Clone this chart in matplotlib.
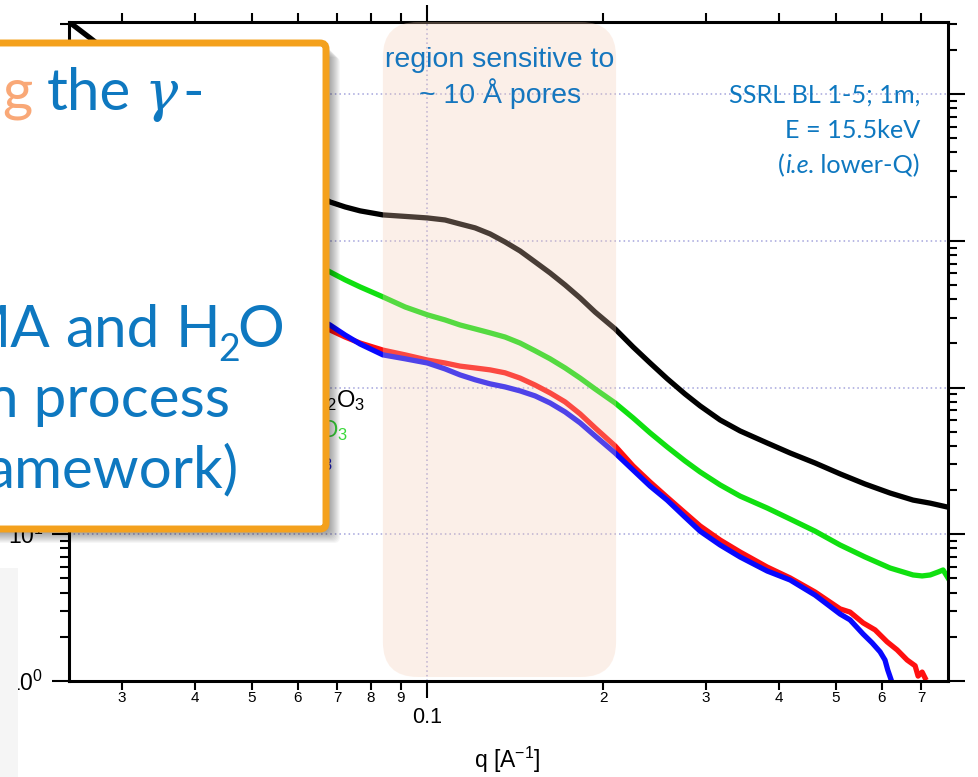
import numpy as np
import matplotlib
matplotlib.use("Agg")
import matplotlib.pyplot as plt
from matplotlib.patches import FancyBboxPatch, Rectangle
from matplotlib.transforms import IdentityTransform
from matplotlib.ticker import FixedLocator, FixedFormatter, LogLocator, NullFormatter

plt.rcParams['font.family'] = ['Liberation Sans', 'DejaVu Sans']
plt.rcParams['mathtext.fontset'] = 'custom'
plt.rcParams['mathtext.rm'] = 'Liberation Sans'
plt.rcParams['mathtext.it'] = 'Liberation Sans:italic'
plt.rcParams['mathtext.default'] = 'regular'

# scattering curves, q in 1/A
q_black = [0.0240, 0.02644, 0.0335, 0.0408, 0.0497, 0.0605, 0.0681, 0.0723, 0.0767, 0.0839,
           0.0916, 0.1000, 0.1072, 0.1137, 0.1207, 0.1280, 0.1358, 0.1441, 0.1529, 0.1622,
           0.1721, 0.1826, 0.1937, 0.2096, 0.2250, 0.2406, 0.2573, 0.2761, 0.2930, 0.3171,
           0.3431, 0.3817, 0.4179, 0.4611, 0.5089, 0.5616, 0.6197, 0.6786, 0.7258, 0.7787]
I_black = [32400, 24150, 11560, 6166, 3673, 2404, 1841, 1702, 1600, 1502,
           1467, 1432, 1387, 1303, 1225, 1115, 982, 853, 718, 604,
           500, 408, 327, 251, 189, 147, 115, 90.4, 75.0, 60.1,
           50.6, 41.9, 35.8, 30.6, 25.8, 22.0, 19.1, 17.1, 16.3, 15.3]

q_green = [0.0243, 0.0335, 0.0497, 0.0605, 0.0681, 0.0723, 0.0767, 0.0839, 0.0916, 0.1000,
           0.1072, 0.1137, 0.1207, 0.1280, 0.1358, 0.1441, 0.1529, 0.1622, 0.1721, 0.1826,
           0.1937, 0.2096, 0.2250, 0.2406, 0.2573, 0.2761, 0.2930, 0.3171, 0.3431, 0.3817,
           0.4179, 0.4611, 0.5089, 0.5616, 0.6197, 0.6786, 0.7032, 0.7258, 0.7488, 0.7638,
           0.7787]
I_green = [6670, 3043, 1283, 776, 614, 542, 485, 415, 354, 313,
           289, 267, 251, 236, 221, 201, 178, 157, 136, 116,
           97.8, 78.5, 62.1, 49.1, 39.4, 31.6, 26.6, 21.7, 18.2, 15.1,
           12.7, 10.5, 8.45, 7.00, 5.89, 5.28, 5.20, 5.28, 5.53, 5.71,
           5.04]

q_red = [0.0243, 0.0335, 0.0497, 0.0605, 0.0681, 0.0723, 0.0767, 0.0839, 0.0916, 0.1000,
         0.1072, 0.1137, 0.1207, 0.1280, 0.1358, 0.1441, 0.1529, 0.1622, 0.1721, 0.1826,
         0.1937, 0.2096, 0.2250, 0.2406, 0.2573, 0.2761, 0.2930, 0.3171, 0.3431, 0.3817,
         0.4179, 0.4611, 0.5089, 0.5292, 0.5572, 0.5841, 0.6124, 0.6371, 0.6628, 0.6840,
         0.6921, 0.7032, 0.7113]
I_red = [1901, 1015, 463, 327, 247, 221, 201, 180, 167, 154,
         147, 140, 136, 132, 126, 116, 104, 91.9, 79.8, 66.1,
         53.1, 40.0, 29.2, 22.7, 17.9, 14.0, 11.4, 9.14, 7.57, 5.98,
         5.04, 4.04, 3.10, 2.95, 2.49, 2.23, 1.85, 1.63, 1.39, 1.27,
         1.08, 1.15, 1.05]

q_blue = [0.0243, 0.0335, 0.0497, 0.0605, 0.0681, 0.0723, 0.0767, 0.0839, 0.0916, 0.1000,
          0.1072, 0.1137, 0.1207, 0.1280, 0.1358, 0.1441, 0.1529, 0.1622, 0.1721, 0.1826,
          0.1937, 0.2096, 0.2250, 0.2406, 0.2573, 0.2761, 0.2930, 0.3171, 0.3431, 0.3817,
          0.4179, 0.4611, 0.5089, 0.5292, 0.5572, 0.5773, 0.5958, 0.6074, 0.6140, 0.6222]
I_blue = [2000, 1050, 480, 340, 267, 228, 198, 167, 157, 147,
          134, 122, 113, 106, 101, 94.9, 87.7, 78.5, 68.2, 57.4,
          46.8, 35.8, 27.4, 21.3, 17.1, 13.1, 10.5, 8.45, 7.00, 5.62,
          4.88, 3.85, 2.86, 2.61, 2.09, 1.82, 1.58, 1.39, 1.19, 1.02]

x_major = [0.1]
x_major_labels = ['0.1']
x_minor = [0.03, 0.04, 0.05, 0.06, 0.07, 0.08, 0.09, 0.2, 0.3, 0.4, 0.5, 0.6, 0.7]
x_minor_labels = ['3', '4', '5', '6', '7', '8', '9', '2', '3', '4', '5', '6', '7']

region_q = [0.0839, 0.2104]   # pore-sensitive q band

W, H = 979, 777
fig = plt.figure(figsize=(W / 100, H / 100), dpi=100)
ax = fig.add_axes([69 / W, 1 - 681 / H, (948 - 69) / W, (681 - 22) / H])
ax.set_xscale('log')
ax.set_yscale('log')
ax.set_xlim(0.02434, 0.7787)
ax.set_ylim(1, 31000)

ax.plot(q_black, I_black, color='black', lw=3.8, zorder=2)
ax.plot(q_green, I_green, color='#10e010', lw=3.8, zorder=2)
ax.plot(q_red, I_red, color='#ff1010', lw=3.8, zorder=2)
ax.plot(q_blue, I_blue, color='#0808ff', lw=3.8, zorder=2)

ax.xaxis.set_major_locator(FixedLocator(x_major))
ax.xaxis.set_major_formatter(FixedFormatter(x_major_labels))
ax.xaxis.set_minor_locator(FixedLocator(x_minor))
ax.xaxis.set_minor_formatter(FixedFormatter(x_minor_labels))
ax.yaxis.set_major_locator(LogLocator(base=10, numticks=10))
ax.yaxis.set_minor_locator(LogLocator(base=10, subs=np.arange(2, 10), numticks=20))
ax.yaxis.set_minor_formatter(NullFormatter())

ax.tick_params(which='both', direction='out', top=True, right=True, width=1.5, color='black')
ax.tick_params(which='major', length=12.5)
ax.tick_params(which='minor', length=6.5)
ax.tick_params(axis='x', which='minor', labelsize=11, pad=1)
ax.tick_params(axis='x', which='major', labelsize=15.5, pad=6)
ax.tick_params(axis='y', which='major', labelsize=16.5, pad=6)
for s in ax.spines.values():
    s.set_linewidth(2.2)
ax.grid(which='major', ls=(0, (1, 2)), color='#a4a4dc', lw=1.1)
ax.grid(which='minor', visible=False)

# shaded q band with rounded corners (pixel units)
x0 = ax.transData.transform((region_q[0], 1))[0]
x1 = ax.transData.transform((region_q[1], 1))[0]
yb = H - 677
yt = H - 22
band = FancyBboxPatch((x0, yb), x1 - x0, yt - yb, boxstyle='round,pad=0,rounding_size=35',
                      transform=IdentityTransform(), fc='#F5CDB5', ec='none', alpha=0.3, zorder=3)
ax.add_patch(band)

blue = '#0E78C0'
px = IdentityTransform()
r = fig.canvas.get_renderer()

fig.text(500, H - 67, 'region sensitive to', ha='center', va='baseline', fontsize=20.5,
         color='#1576BE', transform=px, zorder=4)
fig.text(500, H - 103, '~ 10 Å pores', ha='center', va='baseline', fontsize=20.5,
         color='#1576BE', transform=px, zorder=4)

sfs = 18.2
fig.text(920, H - 103, 'SSRL BL 1-5; 1m,', ha='right', va='baseline', fontsize=sfs,
         family='Lato', color=blue, transform=px)
fig.text(920, H - 138, 'E = 15.5keV', ha='right', va='baseline', fontsize=sfs,
         family='Lato', color=blue, transform=px)
# third line built from pieces so "i.e" can be italic
t3 = fig.text(920, H - 173, '. lower-Q)', ha='right', va='baseline', fontsize=sfs,
              family='Lato', color=blue, transform=px)
left = t3.get_window_extent(r).x0
t4 = fig.text(left, H - 173, 'i.e', ha='right', va='baseline', fontsize=sfs,
              family='Lato', style='italic', color=blue, transform=px)
left = t4.get_window_extent(r).x0
fig.text(left, H - 173, '(', ha='right', va='baseline', fontsize=sfs,
         family='Lato', color=blue, transform=px)

fig.text(507, H - 760, 'q [A$^{-1}$]', ha='center', va='center', fontsize=16.5, transform=px)

# legend entries peeking out from behind the callout
fig.text(365, H - 407, '$_2$O$_3$', ha='right', va='baseline', fontsize=17,
         color='black', transform=px, zorder=3)
fig.text(348, H - 437, 'O$_3$', ha='right', va='baseline', fontsize=17,
         color='#3ad83a', transform=px, zorder=3)
fig.text(333, H - 467, 'O$_3$', ha='right', va='baseline', fontsize=17,
         color='#2020d0', transform=px, zorder=3)

# callout box with soft drop shadow
for k in range(1, 15):
    sh = FancyBboxPatch((-20 + k, H - 529 - k), 346, 486, boxstyle='round,pad=0,rounding_size=6',
                        transform=px, fc='black', ec='none', alpha=0.035, zorder=5)
    fig.add_artist(sh)
box = FancyBboxPatch((-20, H - 529), 346, 486, boxstyle='round,pad=0,rounding_size=6',
                     transform=px, fc='white', ec='#F4A11D', lw=5, zorder=6)
fig.add_artist(box)

fs = 42
kw = dict(va='baseline', fontsize=fs, family='Lato', color=blue, transform=px, zorder=7)
fig.text(2, H - 110, 'g', ha='left', **{**kw, 'color': '#F9A877'})
fig.text(47, H - 110, 'the', ha='left', **kw)
fig.text(145, H - 110, 'γ', ha='left', **{**kw, 'family': 'DejaVu Serif', 'style': 'italic',
                                          'fontsize': fs - 2})
fig.text(182, H - 110, '-', ha='left', **kw)

fig.text(50, H - 347, 'MA', ha='right', **kw)
fig.text(65, H - 347, 'and', ha='left', **kw)
th = fig.text(176, H - 347, 'H', ha='left', **kw)
e = th.get_window_extent(r).x1
t2 = fig.text(e - 2, H - 361, '2', ha='left', **{**kw, 'fontsize': 27})
e = t2.get_window_extent(r).x1
fig.text(e - 3, H - 347, 'O', ha='left', **kw)

fig.text(230, H - 417, 'n process', ha='right', **kw)
fig.text(238, H - 487, 'amework)', ha='right', **kw)

# pale strip at the lower left edge
fig.add_artist(Rectangle((0, 0), 18, H - 568, transform=px, fc='#f5f5f5', ec='none', zorder=8))

fig.savefig('out.png', dpi=100)
